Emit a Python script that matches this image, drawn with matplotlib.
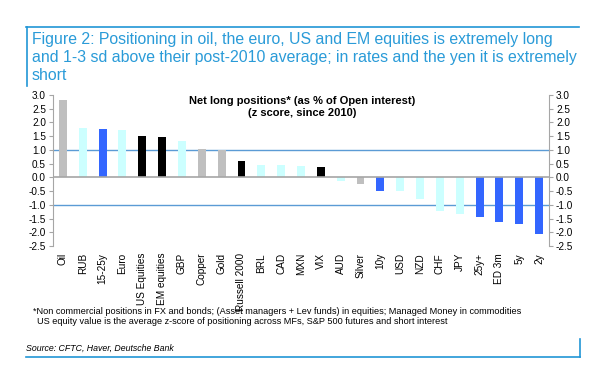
import matplotlib
matplotlib.use("Agg")
import matplotlib.pyplot as plt
from matplotlib.ticker import MultipleLocator, FormatStrFormatter
from matplotlib.lines import Line2D

plt.rcParams["font.family"] = ["Liberation Sans", "DejaVu Sans"]
plt.rcParams["axes.unicode_minus"] = False

# Net long positions, z score since 2010
assets = ["Oil", "RUB", "15-25y", "Euro", "US Equities", "EM equities", "GBP",
          "Copper", "Gold", "Russell 2000", "BRL", "CAD", "MXN", "VIX", "AUD",
          "Silver", "10y", "USD", "NZD", "CHF", "JPY", "25y+", "ED 3m", "5y", "2y"]
zscores = [2.80, 1.78, 1.75, 1.72, 1.50, 1.47, 1.32,
           1.02, 1.00, 0.60, 0.45, 0.45, 0.42, 0.38, -0.12,
           -0.25, -0.48, -0.48, -0.80, -1.22, -1.35, -1.45, -1.62, -1.70, -2.05]
# asset class decides the bar colour
groups = ["cmd", "fx", "rates", "fx", "eq", "eq", "fx",
          "cmd", "cmd", "eq", "fx", "fx", "fx", "eq", "fx",
          "cmd", "rates", "fx", "fx", "fx", "fx", "rates", "rates", "rates", "rates"]

group_colors = {"cmd": "#BFBFBF", "fx": "#CCFFFF", "rates": "#3366FF", "eq": "#000000"}
frame_blue = "#2196D6"

fig = plt.figure(figsize=(6.07, 3.79), dpi=100)

# frame lines around the exhibit
fig.add_artist(Line2D([26 / 607, 579 / 607], [1 - 27 / 379, 1 - 27 / 379],
                      color=frame_blue, lw=1.2))
fig.add_artist(Line2D([26.5 / 607, 26.5 / 607], [1 - 27 / 379, 1 - 86 / 379],
                      color=frame_blue, lw=1.2))
fig.add_artist(Line2D([26 / 607, 580 / 607], [1 - 357 / 379, 1 - 357 / 379],
                      color=frame_blue, lw=1.2))
fig.add_artist(Line2D([580 / 607, 580 / 607], [1 - 357 / 379, 1 - 339 / 379],
                      color=frame_blue, lw=1.2))

fig.text(32 / 607, 1 - 32 / 379,
         "Figure 2: Positioning in oil, the euro, US and EM equities is extremely long\n"
         "and 1-3 sd above their post-2010 average; in rates and the yen it is extremely\n"
         "short",
         color="#2A9BD8", fontsize=11.4, va="top", ha="left", linespacing=1.24)

ax = fig.add_axes([53 / 607, 1 - 246 / 379, (549 - 53) / 607, (246 - 95) / 379])
colors = [group_colors[g] for g in groups]
x = range(len(assets))
ax.bar(x, zscores, width=0.4, color=colors, zorder=2)

ax.axhline(0, color="#A6A6A6", lw=1.2, zorder=3)
ax.axhline(1.0, color="#5B9BD5", lw=1.0, zorder=1)
ax.axhline(-1.0, color="#5B9BD5", lw=1.0, zorder=1)

ax.set_xlim(-0.5, len(assets) - 0.5)
ax.set_ylim(-2.5, 3.0)
ax.yaxis.set_major_locator(MultipleLocator(0.5))
ax.yaxis.set_major_formatter(FormatStrFormatter("%.1f"))
ax.set_xticks(list(x))
ax.set_xticklabels(assets, rotation=90, fontsize=7.2)
ax.tick_params(axis="x", length=0, pad=5)
ax.tick_params(axis="y", which="both", left=True, right=True, labelleft=True,
               labelright=True, direction="out", length=3, color="#A6A6A6",
               labelsize=7.2, pad=2)

for side in ["top", "bottom"]:
    ax.spines[side].set_visible(False)
for side in ["left", "right"]:
    ax.spines[side].set_color("#A6A6A6")

ax.text(0.503, 0.995, "Net long positions* (as % of Open interest)\n(z score, since 2010)",
        transform=ax.transAxes, ha="center", va="top", fontsize=8,
        fontweight="bold", linespacing=1.3)

fig.text(33 / 607, 1 - 311 / 379,
         "*Non commercial positions in FX and bonds; (Asset managers + Lev funds) in equities; "
         "Managed Money in commodities",
         fontsize=6.55, va="center", ha="left")
fig.text(37 / 607, 1 - 322 / 379,
         "US equity value is the average z-score of positioning across MFs, S&P 500 futures "
         "and short interest",
         fontsize=6.55, va="center", ha="left")
fig.text(26 / 607, 1 - 348 / 379, "Source: CFTC, Haver, Deutsche Bank",
         fontsize=6.3, style="italic", va="center", ha="left")

fig.savefig("out.png", dpi=100)
